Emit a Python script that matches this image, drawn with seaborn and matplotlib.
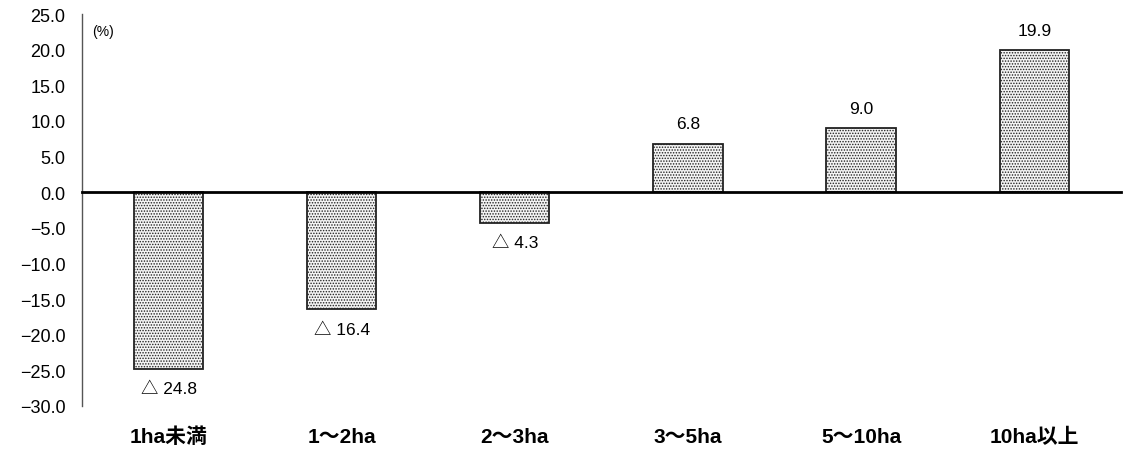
import matplotlib
matplotlib.use("Agg")
import matplotlib.pyplot as plt
import numpy as np
import pandas as pd
import seaborn as sns

categories = ["1ha未満", "1～2ha", "2～3ha", "3～5ha", "5～10ha", "10ha以上"]
values = [-24.8, -16.4, -4.3, 6.8, 9.0, 19.9]
value_labels = ["△ 24.8", "△ 16.4", "△ 4.3", "6.8", "9.0", "19.9"]
yticks = np.arange(-30, 25.1, 5)

sns.set_style("white")
plt.rcParams["font.family"] = ["Liberation Sans", "Noto Sans CJK JP", "DejaVu Sans"]
plt.rcParams["hatch.linewidth"] = 0.7
plt.rcParams["text.color"] = "black"

df = pd.DataFrame({"cat": categories, "val": values})

fig = plt.figure(figsize=(11.23, 4.52), dpi=100)
ax = fig.add_axes([0.073, 0.0996, 0.925, 0.867])

sns.barplot(data=df, x="cat", y="val", color="#f4f4f4", width=0.4,
            edgecolor="black", linewidth=1.3, saturation=1, ax=ax)
for p in ax.patches:
    p.set_hatch("......")
    p.set_edgecolor("#222222")

for i, (v, lab) in enumerate(zip(values, value_labels)):
    off = 20 if v > 0 else -20
    ax.annotate(lab, (i, v), xytext=(0, off), textcoords="offset pixels",
                ha="center", va="center", fontsize=12.5)

ax.set_xlim(-0.5, len(categories) - 0.5)
ax.set_ylim(-30, 25)
ax.set_yticks(yticks)
ax.set_yticklabels([f"{t:.1f}".replace("-", "\u2212") for t in yticks], fontsize=13,
                   color="black")
ax.tick_params(axis="y", direction="in", length=5, color="#555555", pad=12)

# zero line as the x axis, with boundary ticks
ax.spines["bottom"].set_position(("data", 0))
ax.spines["bottom"].set_linewidth(2)
ax.spines["bottom"].set_color("black")
ax.spines["top"].set_visible(False)
ax.spines["right"].set_visible(False)
ax.spines["left"].set_color("#555555")
ax.spines["left"].set_linewidth(1)
ax.set_xticks(np.arange(len(categories)))
ax.set_xticklabels([])
ax.tick_params(axis="x", which="major", length=0)
ax.set_xticks(np.arange(0.5, len(categories) - 0.5, 1), minor=True)
ax.tick_params(axis="x", which="minor", direction="in", length=5, width=2, color="black")

tr = ax.get_xaxis_transform()
for i, c in enumerate(categories):
    ax.text(i, -0.077, c, transform=tr, ha="center", va="center",
            fontsize=15, fontweight="bold")

ax.text(0.01, 0.975, "(%)", transform=ax.transAxes, ha="left", va="top", fontsize=10)

ax.set_xlabel("")
ax.set_ylabel("")

fig.savefig("out.png", dpi=100)
